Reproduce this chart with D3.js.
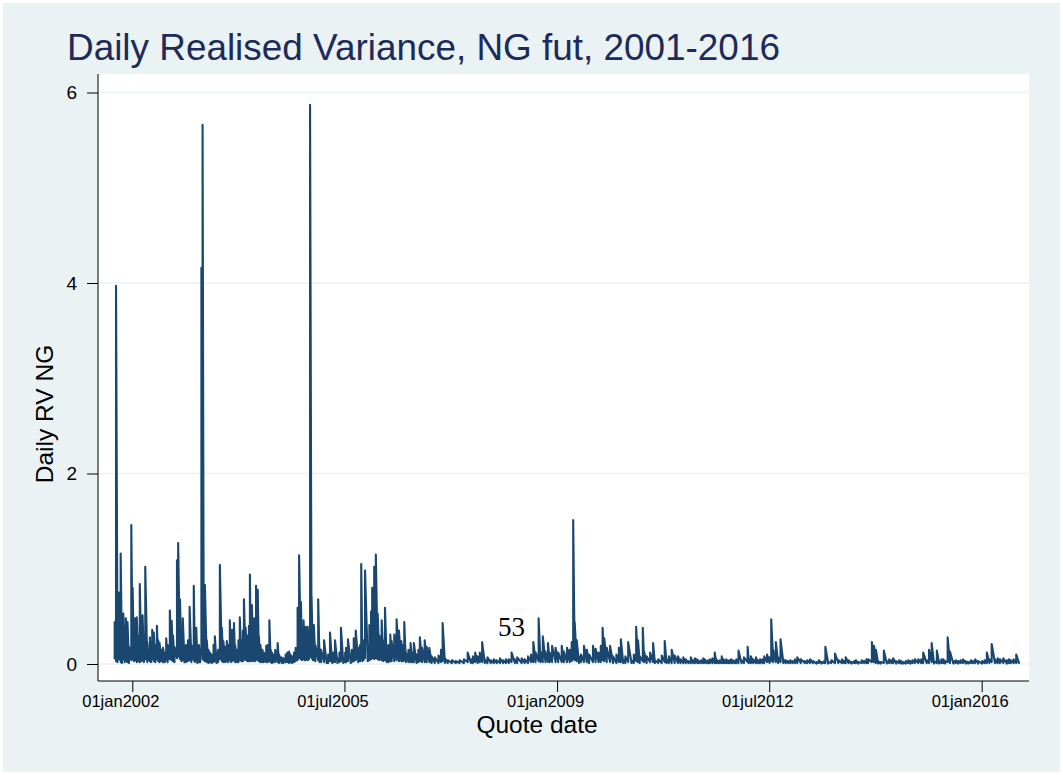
<!DOCTYPE html>
<html>
<head>
<meta charset="utf-8">
<script src="https://cdn.jsdelivr.net/npm/d3@7"></script>
<style>
  body { margin: 0; background: #fff; }
  svg { display: block; font-family: "Liberation Sans", Arial, sans-serif; }
</style>
</head>
<body>
<svg id="chart" width="1063" height="775"></svg>
<script>
// daily RV of NG futures as [date, low, high] per few days
const rv2001 = [
  ['2001-09-17', 0.05, 0.44], ['2001-09-25', 0.03, 3.97], ['2001-10-04', 0.02, 0.25],
  ['2001-10-12', 0.05, 0.75], ['2001-10-23', 0.02, 1.16], ['2001-10-31', 0.01, 0.20],
  ['2001-11-08', 0.05, 0.53], ['2001-11-16', 0.02, 0.30], ['2001-11-23', 0.03, 0.48],
  ['2001-12-03', 0.02, 0.44], ['2001-12-12', 0.01, 0.18], ['2001-12-26', 0.04, 1.46]
]
const rv2002 = [
  ['2002-01-03', 0.05, 0.80], ['2002-01-11', 0.03, 0.25], ['2002-01-18', 0.04, 0.48],
  ['2002-01-28', 0.02, 0.49], ['2002-02-06', 0.03, 0.30], ['2002-02-15', 0.02, 0.84],
  ['2002-02-25', 0.03, 0.20], ['2002-03-04', 0.04, 0.51], ['2002-03-12', 0.02, 0.22],
  ['2002-03-20', 0.05, 1.02], ['2002-04-01', 0.02, 0.23], ['2002-04-09', 0.04, 0.15],
  ['2002-04-17', 0.03, 0.28], ['2002-04-24', 0.02, 0.18], ['2002-05-01', 0.05, 0.36],
  ['2002-05-10', 0.03, 0.33], ['2002-05-20', 0.02, 0.20], ['2002-05-29', 0.05, 0.40],
  ['2002-06-06', 0.03, 0.25], ['2002-06-14', 0.02, 0.22], ['2002-06-25', 0.03, 0.15],
  ['2002-07-05', 0.02, 0.17], ['2002-07-16', 0.02, 0.12], ['2002-07-24', 0.04, 0.27],
  ['2002-08-02', 0.02, 0.20], ['2002-08-15', 0.05, 0.56], ['2002-08-26', 0.04, 0.45],
  ['2002-09-03', 0.03, 0.30], ['2002-09-12', 0.02, 0.18], ['2002-09-27', 0.06, 1.09],
  ['2002-10-04', 0.08, 1.27], ['2002-10-15', 0.05, 0.68], ['2002-10-24', 0.03, 0.30],
  ['2002-11-01', 0.04, 0.48], ['2002-11-11', 0.02, 0.15], ['2002-11-20', 0.02, 0.20],
  ['2002-12-02', 0.03, 0.25], ['2002-12-12', 0.04, 0.60], ['2002-12-23', 0.02, 0.20]
]
const rv2003 = [
  ['2003-01-06', 0.04, 0.82], ['2003-01-13', 0.02, 0.25], ['2003-01-21', 0.03, 0.38],
  ['2003-01-28', 0.01, 0.10], ['2003-02-06', 0.02, 0.20], ['2003-02-14', 0.02, 0.15],
  ['2003-02-21', 0.10, 4.16], ['2003-02-28', 0.05, 5.66], ['2003-03-07', 0.04, 0.30],
  ['2003-03-14', 0.03, 0.83], ['2003-03-25', 0.02, 0.25], ['2003-04-04', 0.01, 0.15],
  ['2003-04-14', 0.02, 0.12], ['2003-04-24', 0.01, 0.10], ['2003-05-05', 0.02, 0.20],
  ['2003-05-13', 0.03, 0.29], ['2003-05-23', 0.01, 0.12], ['2003-06-02', 0.02, 0.15],
  ['2003-06-12', 0.05, 1.04], ['2003-06-24', 0.03, 0.38], ['2003-07-03', 0.02, 0.24],
  ['2003-07-15', 0.02, 0.18], ['2003-07-24', 0.03, 0.24], ['2003-08-01', 0.02, 0.20],
  ['2003-08-11', 0.04, 0.46], ['2003-08-18', 0.02, 0.25], ['2003-08-25', 0.03, 0.36],
  ['2003-09-05', 0.04, 0.43], ['2003-09-12', 0.02, 0.20], ['2003-09-23', 0.02, 0.15],
  ['2003-10-02', 0.02, 0.25], ['2003-10-10', 0.04, 0.49], ['2003-10-20', 0.03, 0.25],
  ['2003-10-29', 0.03, 0.35], ['2003-11-04', 0.05, 0.68], ['2003-11-14', 0.04, 0.38],
  ['2003-11-25', 0.03, 0.30], ['2003-12-04', 0.03, 0.40], ['2003-12-10', 0.06, 0.94],
  ['2003-12-16', 0.03, 0.30], ['2003-12-22', 0.05, 0.62], ['2003-12-29', 0.03, 0.30]
]
const rv2004 = [
  ['2004-01-05', 0.04, 0.48], ['2004-01-12', 0.03, 0.30], ['2004-01-16', 0.05, 0.82],
  ['2004-01-26', 0.04, 0.78], ['2004-02-02', 0.03, 0.29], ['2004-02-11', 0.02, 0.20],
  ['2004-02-23', 0.02, 0.15], ['2004-03-03', 0.02, 0.12], ['2004-03-17', 0.02, 0.19],
  ['2004-03-26', 0.02, 0.20], ['2004-04-05', 0.03, 0.46], ['2004-04-13', 0.02, 0.15],
  ['2004-04-21', 0.01, 0.12], ['2004-04-30', 0.02, 0.10], ['2004-05-10', 0.02, 0.15],
  ['2004-05-25', 0.02, 0.22], ['2004-06-02', 0.01, 0.10], ['2004-06-18', 0.01, 0.07],
  ['2004-06-29', 0.01, 0.06], ['2004-07-12', 0.02, 0.10], ['2004-07-22', 0.02, 0.12],
  ['2004-08-02', 0.01, 0.13], ['2004-08-10', 0.02, 0.10], ['2004-08-20', 0.01, 0.08],
  ['2004-08-31', 0.02, 0.12], ['2004-09-10', 0.03, 0.17], ['2004-09-22', 0.04, 0.59],
  ['2004-10-01', 0.06, 1.14], ['2004-10-12', 0.05, 0.65], ['2004-10-19', 0.04, 0.30],
  ['2004-10-28', 0.05, 0.46], ['2004-11-04', 0.04, 0.30], ['2004-11-09', 0.04, 0.39],
  ['2004-11-22', 0.04, 0.39], ['2004-11-29', 0.05, 0.25], ['2004-12-06', 0.08, 5.87],
  ['2004-12-15', 0.06, 0.71], ['2004-12-23', 0.04, 0.30], ['2004-12-29', 0.04, 0.41]
]
const rv2005 = [
  ['2005-01-07', 0.03, 0.20], ['2005-01-24', 0.04, 0.68], ['2005-02-01', 0.02, 0.17],
  ['2005-02-10', 0.02, 0.15], ['2005-02-28', 0.02, 0.25], ['2005-03-16', 0.01, 0.05],
  ['2005-03-25', 0.01, 0.10], ['2005-04-05', 0.03, 0.33], ['2005-04-18', 0.01, 0.06],
  ['2005-04-26', 0.02, 0.12], ['2005-05-05', 0.02, 0.25], ['2005-05-20', 0.01, 0.06],
  ['2005-06-01', 0.02, 0.12], ['2005-06-10', 0.03, 0.38], ['2005-06-24', 0.01, 0.06],
  ['2005-07-05', 0.02, 0.12], ['2005-07-11', 0.02, 0.17], ['2005-07-22', 0.03, 0.26],
  ['2005-08-08', 0.01, 0.06], ['2005-08-15', 0.02, 0.15], ['2005-08-26', 0.03, 0.27],
  ['2005-09-07', 0.04, 0.35], ['2005-09-22', 0.02, 0.17], ['2005-10-03', 0.03, 0.20],
  ['2005-10-10', 0.05, 1.05], ['2005-10-17', 0.03, 0.19], ['2005-10-24', 0.04, 0.25],
  ['2005-11-02', 0.06, 0.98], ['2005-11-18', 0.03, 0.17], ['2005-11-28', 0.04, 0.41],
  ['2005-12-08', 0.05, 0.55], ['2005-12-15', 0.06, 0.80], ['2005-12-27', 0.05, 1.02]
]
const rv2006 = [
  ['2006-01-06', 0.06, 1.15], ['2006-01-17', 0.05, 0.53], ['2006-01-27', 0.04, 0.30],
  ['2006-02-10', 0.04, 0.46], ['2006-02-20', 0.03, 0.25], ['2006-03-02', 0.04, 0.59],
  ['2006-03-13', 0.02, 0.12], ['2006-03-23', 0.02, 0.20], ['2006-04-03', 0.03, 0.31],
  ['2006-04-11', 0.03, 0.24], ['2006-04-27', 0.03, 0.31], ['2006-05-11', 0.04, 0.47],
  ['2006-05-25', 0.03, 0.35], ['2006-06-08', 0.03, 0.24], ['2006-06-19', 0.03, 0.20],
  ['2006-06-26', 0.04, 0.44], ['2006-07-06', 0.02, 0.12], ['2006-07-21', 0.02, 0.15],
  ['2006-08-03', 0.02, 0.22], ['2006-08-14', 0.02, 0.12], ['2006-08-23', 0.02, 0.22],
  ['2006-09-08', 0.01, 0.10], ['2006-09-19', 0.02, 0.15], ['2006-09-28', 0.03, 0.28],
  ['2006-10-11', 0.02, 0.17], ['2006-10-27', 0.02, 0.25], ['2006-11-08', 0.02, 0.18],
  ['2006-11-24', 0.02, 0.17], ['2006-12-08', 0.01, 0.08], ['2006-12-27', 0.01, 0.07]
]
const rv2007 = [
  ['2007-01-18', 0.01, 0.09], ['2007-02-02', 0.02, 0.15], ['2007-02-12', 0.03, 0.43],
  ['2007-02-26', 0.01, 0.06], ['2007-03-15', 0.01, 0.04], ['2007-04-09', 0.01, 0.04],
  ['2007-05-03', 0.01, 0.03], ['2007-05-25', 0.01, 0.04], ['2007-06-20', 0.01, 0.05],
  ['2007-07-13', 0.02, 0.12], ['2007-08-01', 0.01, 0.05], ['2007-08-13', 0.01, 0.08],
  ['2007-08-27', 0.02, 0.12], ['2007-09-11', 0.01, 0.08], ['2007-09-24', 0.02, 0.12],
  ['2007-10-08', 0.02, 0.23], ['2007-10-24', 0.01, 0.05], ['2007-11-09', 0.01, 0.07],
  ['2007-11-29', 0.01, 0.04], ['2007-12-17', 0.01, 0.05]
]
const rv2008 = [
  ['2008-01-04', 0.01, 0.04], ['2008-01-23', 0.01, 0.06], ['2008-02-11', 0.01, 0.04],
  ['2008-02-28', 0.01, 0.05], ['2008-03-17', 0.01, 0.05], ['2008-04-02', 0.02, 0.12],
  ['2008-04-22', 0.01, 0.05], ['2008-05-06', 0.01, 0.07], ['2008-06-02', 0.01, 0.06],
  ['2008-06-20', 0.01, 0.05], ['2008-07-10', 0.01, 0.08], ['2008-07-28', 0.02, 0.10],
  ['2008-08-11', 0.02, 0.23], ['2008-08-25', 0.02, 0.12], ['2008-09-12', 0.03, 0.48],
  ['2008-09-23', 0.02, 0.13], ['2008-10-07', 0.02, 0.29], ['2008-10-23', 0.02, 0.13],
  ['2008-11-07', 0.02, 0.22], ['2008-11-18', 0.02, 0.12], ['2008-12-02', 0.02, 0.19],
  ['2008-12-23', 0.02, 0.17]
]
const rv2009 = [
  ['2009-01-08', 0.02, 0.12], ['2009-01-29', 0.02, 0.19], ['2009-02-11', 0.02, 0.13],
  ['2009-03-02', 0.02, 0.17], ['2009-03-18', 0.02, 0.15], ['2009-03-30', 0.03, 0.23],
  ['2009-04-08', 0.05, 1.51], ['2009-04-17', 0.04, 0.44], ['2009-04-29', 0.03, 0.25],
  ['2009-05-13', 0.01, 0.08], ['2009-05-25', 0.02, 0.10], ['2009-06-12', 0.02, 0.19],
  ['2009-06-29', 0.02, 0.15], ['2009-07-13', 0.01, 0.10], ['2009-08-05', 0.02, 0.19],
  ['2009-08-21', 0.02, 0.16], ['2009-09-08', 0.02, 0.12], ['2009-09-21', 0.02, 0.19],
  ['2009-10-02', 0.04, 0.38], ['2009-10-12', 0.03, 0.27], ['2009-10-27', 0.02, 0.17],
  ['2009-11-16', 0.02, 0.19], ['2009-12-04', 0.01, 0.08], ['2009-12-24', 0.01, 0.10]
]
const rv2010 = [
  ['2010-01-08', 0.02, 0.17], ['2010-01-20', 0.02, 0.26], ['2010-02-03', 0.01, 0.05],
  ['2010-02-16', 0.01, 0.08], ['2010-03-05', 0.02, 0.23], ['2010-03-25', 0.01, 0.04],
  ['2010-04-08', 0.01, 0.10], ['2010-04-22', 0.03, 0.39], ['2010-05-03', 0.02, 0.25],
  ['2010-05-14', 0.01, 0.08], ['2010-06-01', 0.03, 0.38], ['2010-06-09', 0.02, 0.13],
  ['2010-06-24', 0.01, 0.08], ['2010-07-15', 0.02, 0.12], ['2010-08-02', 0.02, 0.22],
  ['2010-08-13', 0.01, 0.04], ['2010-09-02', 0.01, 0.05], ['2010-09-23', 0.01, 0.09],
  ['2010-10-11', 0.02, 0.24], ['2010-10-22', 0.01, 0.05], ['2010-11-05', 0.01, 0.08],
  ['2010-11-22', 0.01, 0.15], ['2010-12-10', 0.01, 0.09], ['2010-12-30', 0.01, 0.08]
]
const rv2011 = [
  ['2011-01-14', 0.01, 0.05], ['2011-01-31', 0.01, 0.07], ['2011-02-15', 0.01, 0.05],
  ['2011-03-02', 0.01, 0.03], ['2011-03-17', 0.01, 0.07], ['2011-03-31', 0.01, 0.04],
  ['2011-04-11', 0.01, 0.06], ['2011-04-25', 0.01, 0.05], ['2011-05-05', 0.01, 0.03],
  ['2011-05-18', 0.01, 0.04], ['2011-05-31', 0.01, 0.06], ['2011-06-09', 0.01, 0.05],
  ['2011-06-22', 0.01, 0.03], ['2011-06-30', 0.01, 0.04], ['2011-07-11', 0.01, 0.05],
  ['2011-07-25', 0.01, 0.06], ['2011-08-08', 0.01, 0.12], ['2011-08-18', 0.01, 0.05],
  ['2011-08-29', 0.01, 0.03], ['2011-09-08', 0.01, 0.04], ['2011-09-19', 0.01, 0.08],
  ['2011-09-29', 0.01, 0.05], ['2011-10-07', 0.01, 0.04], ['2011-10-17', 0.01, 0.05],
  ['2011-10-27', 0.01, 0.03], ['2011-11-03', 0.01, 0.04], ['2011-11-14', 0.01, 0.05],
  ['2011-11-25', 0.01, 0.04], ['2011-12-08', 0.01, 0.03], ['2011-12-16', 0.01, 0.05],
  ['2011-12-29', 0.01, 0.14]
]
const rv2012 = [
  ['2012-01-16', 0.01, 0.04], ['2012-01-31', 0.01, 0.07], ['2012-02-22', 0.02, 0.18],
  ['2012-03-01', 0.01, 0.05], ['2012-03-13', 0.01, 0.08], ['2012-03-27', 0.01, 0.05],
  ['2012-04-12', 0.01, 0.07], ['2012-04-25', 0.01, 0.04], ['2012-05-07', 0.01, 0.05],
  ['2012-05-21', 0.01, 0.05], ['2012-06-01', 0.01, 0.08], ['2012-06-18', 0.02, 0.10],
  ['2012-07-03', 0.01, 0.07], ['2012-07-13', 0.03, 0.47], ['2012-07-25', 0.02, 0.15],
  ['2012-08-10', 0.02, 0.23], ['2012-08-24', 0.01, 0.07], ['2012-09-07', 0.02, 0.26],
  ['2012-09-24', 0.01, 0.05], ['2012-10-08', 0.01, 0.04], ['2012-10-23', 0.01, 0.03],
  ['2012-11-05', 0.01, 0.04], ['2012-11-19', 0.01, 0.03], ['2012-12-03', 0.01, 0.05],
  ['2012-12-17', 0.01, 0.07]
]
const rv2013 = [
  ['2013-01-07', 0.01, 0.05], ['2013-01-31', 0.01, 0.03], ['2013-02-15', 0.01, 0.04],
  ['2013-03-04', 0.01, 0.05], ['2013-03-22', 0.01, 0.03], ['2013-04-12', 0.005, 0.02],
  ['2013-04-26', 0.01, 0.04], ['2013-05-13', 0.005, 0.02], ['2013-05-28', 0.01, 0.03],
  ['2013-06-04', 0.01, 0.18], ['2013-06-21', 0.005, 0.02], ['2013-07-10', 0.01, 0.04],
  ['2013-08-01', 0.01, 0.11], ['2013-08-21', 0.01, 0.04], ['2013-09-12', 0.01, 0.05],
  ['2013-09-25', 0.01, 0.03], ['2013-10-04', 0.01, 0.07], ['2013-10-21', 0.01, 0.04],
  ['2013-11-08', 0.005, 0.02], ['2013-11-25', 0.01, 0.03], ['2013-12-05', 0.01, 0.04],
  ['2013-12-19', 0.005, 0.02]
]
const rv2014 = [
  ['2014-01-09', 0.01, 0.04], ['2014-01-23', 0.01, 0.03], ['2014-02-06', 0.01, 0.05],
  ['2014-02-17', 0.01, 0.05], ['2014-03-11', 0.02, 0.23], ['2014-03-24', 0.02, 0.19],
  ['2014-04-04', 0.01, 0.15], ['2014-04-18', 0.005, 0.03], ['2014-05-02', 0.005, 0.02],
  ['2014-05-22', 0.01, 0.14], ['2014-06-09', 0.005, 0.03], ['2014-06-23', 0.01, 0.05],
  ['2014-07-07', 0.01, 0.04], ['2014-07-17', 0.01, 0.06], ['2014-08-04', 0.005, 0.03],
  ['2014-08-22', 0.01, 0.04], ['2014-09-04', 0.005, 0.03], ['2014-09-16', 0.005, 0.02],
  ['2014-10-01', 0.005, 0.03], ['2014-10-16', 0.01, 0.04], ['2014-10-29', 0.005, 0.03],
  ['2014-11-10', 0.01, 0.04], ['2014-11-25', 0.01, 0.05], ['2014-12-15', 0.01, 0.05]
]
const rv2015 = [
  ['2015-01-02', 0.01, 0.05], ['2015-01-14', 0.01, 0.12], ['2015-02-04', 0.01, 0.04],
  ['2015-02-18', 0.01, 0.15], ['2015-03-06', 0.02, 0.22], ['2015-03-20', 0.005, 0.03],
  ['2015-04-06', 0.01, 0.14], ['2015-04-20', 0.005, 0.03], ['2015-05-04', 0.01, 0.05],
  ['2015-05-15', 0.01, 0.05], ['2015-05-26', 0.005, 0.03], ['2015-06-10', 0.02, 0.28],
  ['2015-06-24', 0.01, 0.13], ['2015-07-14', 0.005, 0.03], ['2015-07-28', 0.01, 0.04],
  ['2015-08-13', 0.005, 0.03], ['2015-08-27', 0.01, 0.04], ['2015-09-11', 0.01, 0.05],
  ['2015-09-28', 0.005, 0.03], ['2015-10-12', 0.005, 0.02], ['2015-10-28', 0.01, 0.04],
  ['2015-11-10', 0.01, 0.03], ['2015-11-23', 0.01, 0.05], ['2015-12-11', 0.005, 0.03]
]
const rv2016 = [
  ['2016-01-04', 0.005, 0.03], ['2016-01-19', 0.01, 0.04], ['2016-02-01', 0.01, 0.12],
  ['2016-02-16', 0.01, 0.05], ['2016-03-01', 0.02, 0.21], ['2016-03-21', 0.01, 0.05],
  ['2016-04-06', 0.01, 0.06], ['2016-04-20', 0.01, 0.05], ['2016-05-10', 0.01, 0.06],
  ['2016-05-31', 0.005, 0.04], ['2016-06-13', 0.01, 0.05], ['2016-06-24', 0.01, 0.04],
  ['2016-07-11', 0.01, 0.05], ['2016-07-27', 0.01, 0.10], ['2016-08-12', 0.01, 0.03]
]

const yTicks = [0, 2, 4, 6]
const xTicks = ['2002-01-01', '2005-07-01', '2009-01-01', '2012-07-01', '2016-01-01']
const titleText = 'Daily Realised Variance, NG fut, 2001-2016'
const yTitle = 'Daily RV NG'
const xTitle = 'Quote date'
const noteText = '53'

const parseDate = d3.timeParse('%Y-%m-%d')
const fmt = d3.timeFormat('%d%b%Y')

// plot region box
const plot = { left: 98, right: 1029, top: 74, bottom: 681 }

const x = d3.scaleTime()
  .domain([parseDate(xTicks[0]), parseDate(xTicks[4])])
  .range([132.3, 981.7])
const y = d3.scaleLinear().domain([0, 6]).range([664, 92.5])

const svg = d3.select('#chart')

svg.append('rect')
  .attr('x', 3).attr('y', 3)
  .attr('width', 1057).attr('height', 769)
  .attr('fill', '#eaf2f3')

svg.append('rect')
  .attr('x', plot.left).attr('y', plot.top)
  .attr('width', plot.right - plot.left).attr('height', plot.bottom - plot.top)
  .attr('fill', '#fff')

// grid
svg.append('g')
  .selectAll('line')
  .data(yTicks)
  .join('line')
  .attr('x1', plot.left).attr('x2', plot.right)
  .attr('y1', d => y(d)).attr('y2', d => y(d))
  .attr('stroke', '#eaf2f3')
  .attr('stroke-width', 1.5)

// series
const points = []
;[rv2001, rv2002, rv2003, rv2004, rv2005, rv2006, rv2007, rv2008,
  rv2009, rv2010, rv2011, rv2012, rv2013, rv2014, rv2015, rv2016].forEach(yr => {
  yr.forEach(([d, lo, hi]) => {
    const t = parseDate(d)
    points.push([t, lo], [t, hi])
  })
})

const line = d3.line().x(d => x(d[0])).y(d => y(d[1]))

svg.append('path')
  .attr('d', line(points))
  .attr('fill', 'none')
  .attr('stroke', '#1a476f')
  .attr('stroke-width', 2.1)
  .attr('stroke-linejoin', 'round')

// axes
const yAxis = svg.append('g')
  .attr('transform', `translate(${plot.left},0)`)
  .call(d3.axisLeft(y).tickValues(yTicks).tickSize(11).tickPadding(10).tickFormat(d3.format('d')))
yAxis.attr('font-family', null)
yAxis.select('.domain').remove()
yAxis.selectAll('text').attr('font-size', 19).attr('fill', '#000')

const xAxis = svg.append('g')
  .attr('transform', `translate(0,${plot.bottom})`)
  .call(d3.axisBottom(x).tickValues(xTicks.map(parseDate)).tickSize(11).tickPadding(3.5)
    .tickFormat(d => fmt(d).toLowerCase()))
xAxis.attr('font-family', null)
xAxis.select('.domain').remove()
xAxis.selectAll('text').attr('font-size', 16.5).attr('fill', '#000').attr('dx', -12)

svg.selectAll('.tick line').attr('stroke', '#000')

svg.append('line')
  .attr('x1', plot.left).attr('x2', plot.left)
  .attr('y1', plot.top).attr('y2', plot.bottom)
  .attr('stroke', '#000')
svg.append('line')
  .attr('x1', plot.left).attr('x2', plot.right)
  .attr('y1', plot.bottom).attr('y2', plot.bottom)
  .attr('stroke', '#000')

// titles
svg.append('text')
  .attr('x', 67).attr('y', 60)
  .attr('font-size', 36.9)
  .attr('fill', '#1c2b5a')
  .text(titleText)

svg.append('text')
  .attr('transform', 'translate(53,414) rotate(-90)')
  .attr('text-anchor', 'middle')
  .attr('font-size', 24.5)
  .text(yTitle)

svg.append('text')
  .attr('x', 537).attr('y', 733)
  .attr('text-anchor', 'middle')
  .attr('font-size', 24.5)
  .text(xTitle)

svg.append('text')
  .attr('x', 511.5).attr('y', 636)
  .attr('text-anchor', 'middle')
  .attr('font-size', 27)
  .attr('font-family', '"Liberation Serif", "DejaVu Serif", serif')
  .text(noteText)
</script>
</body>
</html>
